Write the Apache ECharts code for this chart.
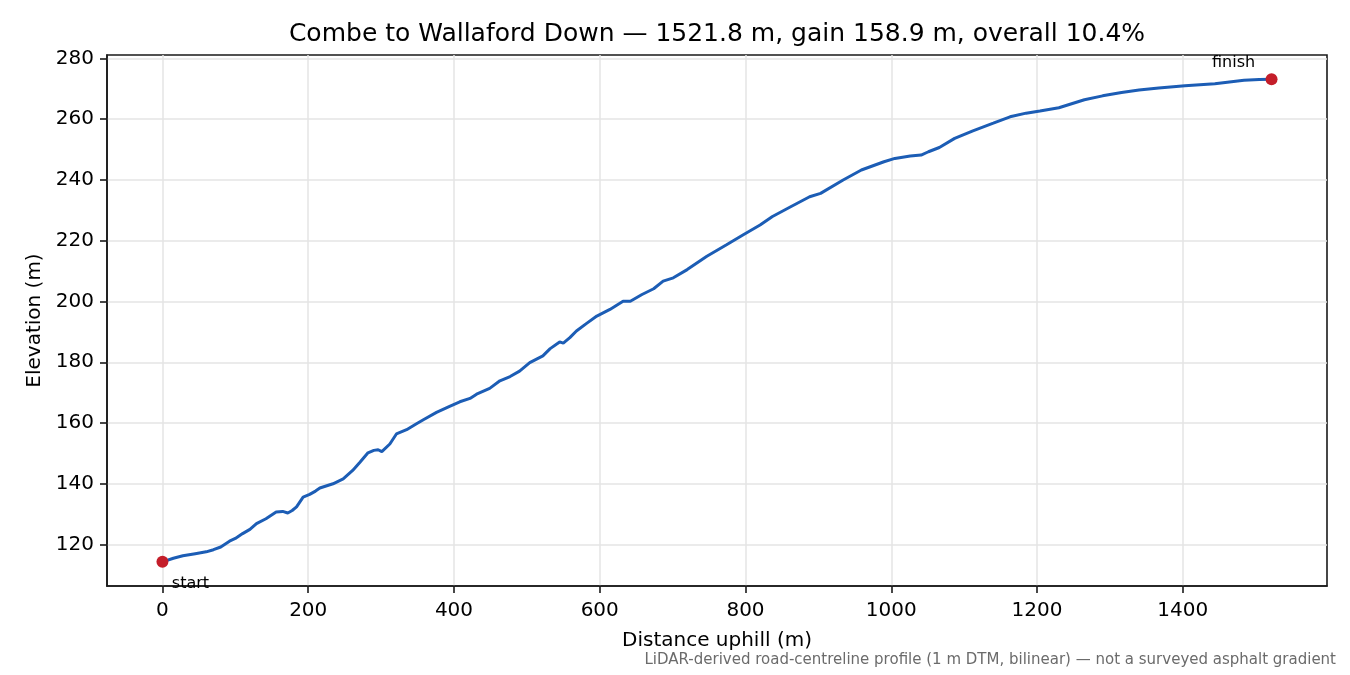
<!DOCTYPE html>
<html>
<head>
<meta charset="utf-8">
<script src="https://cdn.jsdelivr.net/npm/echarts@6/dist/echarts.min.js"></script>
<style>
html,body{margin:0;padding:0;background:#fff;}
#chart{width:1350px;height:675px;}
</style>
</head>
<body>
<div id="chart"></div>
<script>
// Distance uphill (m)
const distance = [0,15,28,45,60,70,80,92,100,110,120,129,142,156,165,172,178,184,193,202,210,216,234,248,261,271,282,290,296,301,312,321,335,348,358,376,394,408,422,431,449,463,477,490,504,522,532,545,550,559,568,582,596,614,632,642,658,674,687,701,720,747,774,797,820,837,862,888,903,934,959,990,1005,1026,1041,1051,1066,1087,1112,1140,1163,1185,1204,1230,1265,1290,1316,1340,1367,1403,1444,1484,1505,1521.8];
// Elevation (m)
const elevation = [114.3,115.5,116.3,117.0,117.6,118.3,119.2,121.1,122.0,123.6,125.0,126.9,128.5,130.7,130.9,130.4,131.2,132.4,135.6,136.5,137.6,138.6,140.0,141.6,144.4,147.1,150.2,151.0,151.2,150.6,153.1,156.4,157.8,159.7,161.1,163.5,165.5,167.0,168.1,169.5,171.4,173.9,175.3,177.1,179.9,182.1,184.5,186.7,186.3,188.1,190.3,192.8,195.2,197.4,200.1,200.1,202.3,204.2,206.7,207.8,210.5,214.9,218.7,222.0,225.2,228.0,231.2,234.5,235.6,240.0,243.3,246.0,247.1,247.9,248.2,249.3,250.7,253.7,256.2,258.7,260.8,262.0,262.7,263.8,266.4,267.7,268.8,269.6,270.3,271.0,271.7,272.8,273.1,273.2];
const xTicks = [0,200,400,600,800,1000,1200,1400];
const yTicks = [120,140,160,180,200,220,240,260,280];
const endpointLabels = ['start','finish'];
const titleText = 'Combe to Wallaford Down — 1521.8 m, gain 158.9 m, overall 10.4%';
const xName = 'Distance uphill (m)';
const yName = 'Elevation (m)';
const footnote = 'LiDAR-derived road-centreline profile (1 m DTM, bilinear) — not a surveyed asphalt gradient';

const FONT = 'DejaVu Sans';
const lineData = distance.map((d,i)=>[d, elevation[i]]);
const last = distance.length - 1;
const xMinD = Math.min(...distance), xMaxD = Math.max(...distance);
const yMinD = Math.min(...elevation), yMaxD = Math.max(...elevation);
const xPad = (xMaxD - xMinD) * 0.05, yPad = (yMaxD - yMinD) * 0.05;

const chart = echarts.init(document.getElementById('chart'), null, {renderer:'canvas'});
chart.setOption({
  backgroundColor:'#fff',
  animation:false,
  grid:{left:107, right:23, top:55, bottom:89, show:true, borderColor:'#1a1a1a', borderWidth:1.6, backgroundColor:'transparent'},
  graphic:[
    {type:'text', x:717, y:34, style:{text:titleText, fontFamily:FONT, fontSize:25, fill:'#000', align:'center', verticalAlign:'middle', textAlign:'center', textVerticalAlign:'middle'}},
    {type:'text', x:1336, y:660, style:{text:footnote, fontFamily:FONT, fontSize:15, fill:'#6b6b6b', align:'right', verticalAlign:'middle', textAlign:'right', textVerticalAlign:'middle'}}
  ],
  xAxis:{
    type:'value', min:xMinD - xPad, max:xMaxD + xPad,
    name:xName, nameLocation:'middle', nameGap:45,
    nameTextStyle:{fontFamily:FONT, fontSize:20, color:'#000'},
    axisLine:{show:true, onZero:false, lineStyle:{color:'#1a1a1a', width:1.6}},
    axisTick:{show:true, inside:false, length:7, customValues:xTicks, lineStyle:{color:'#1a1a1a', width:1.6}},
    axisLabel:{customValues:xTicks, margin:15, fontFamily:FONT, fontSize:20, color:'#000', formatter:v=>String(v)},
    splitLine:{show:true, lineStyle:{color:'#e4e4e4', width:1.5}}
  },
  yAxis:{
    type:'value', min:yMinD - yPad, max:yMaxD + yPad,
    name:yName, nameLocation:'middle', nameGap:62,
    nameTextStyle:{fontFamily:FONT, fontSize:20, color:'#000'},
    axisLine:{show:true, onZero:false, lineStyle:{color:'#1a1a1a', width:1.6}},
    axisTick:{show:true, inside:false, length:7, customValues:yTicks, lineStyle:{color:'#1a1a1a', width:1.6}},
    axisLabel:{customValues:yTicks, margin:13, fontFamily:FONT, fontSize:20, color:'#000', formatter:v=>String(v)},
    splitLine:{show:true, lineStyle:{color:'#e4e4e4', width:1.5}}
  },
  series:[
    {type:'line', data:lineData, showSymbol:false, symbol:'none', smooth:false,
     lineStyle:{color:'#1c5db5', width:3}, z:3},
    {type:'scatter', symbolSize:12, itemStyle:{color:'#c41e2a', opacity:1}, z:4,
     data:[
       {value:lineData[0], label:{show:true, formatter:endpointLabels[0], position:'bottom', offset:[28,3], fontFamily:FONT, fontSize:16, color:'#000'}},
       {value:lineData[last], label:{show:true, formatter:endpointLabels[1], position:'top', offset:[-38,3], fontFamily:FONT, fontSize:16, color:'#000'}}
     ]}
  ]
});
</script>
</body>
</html>
